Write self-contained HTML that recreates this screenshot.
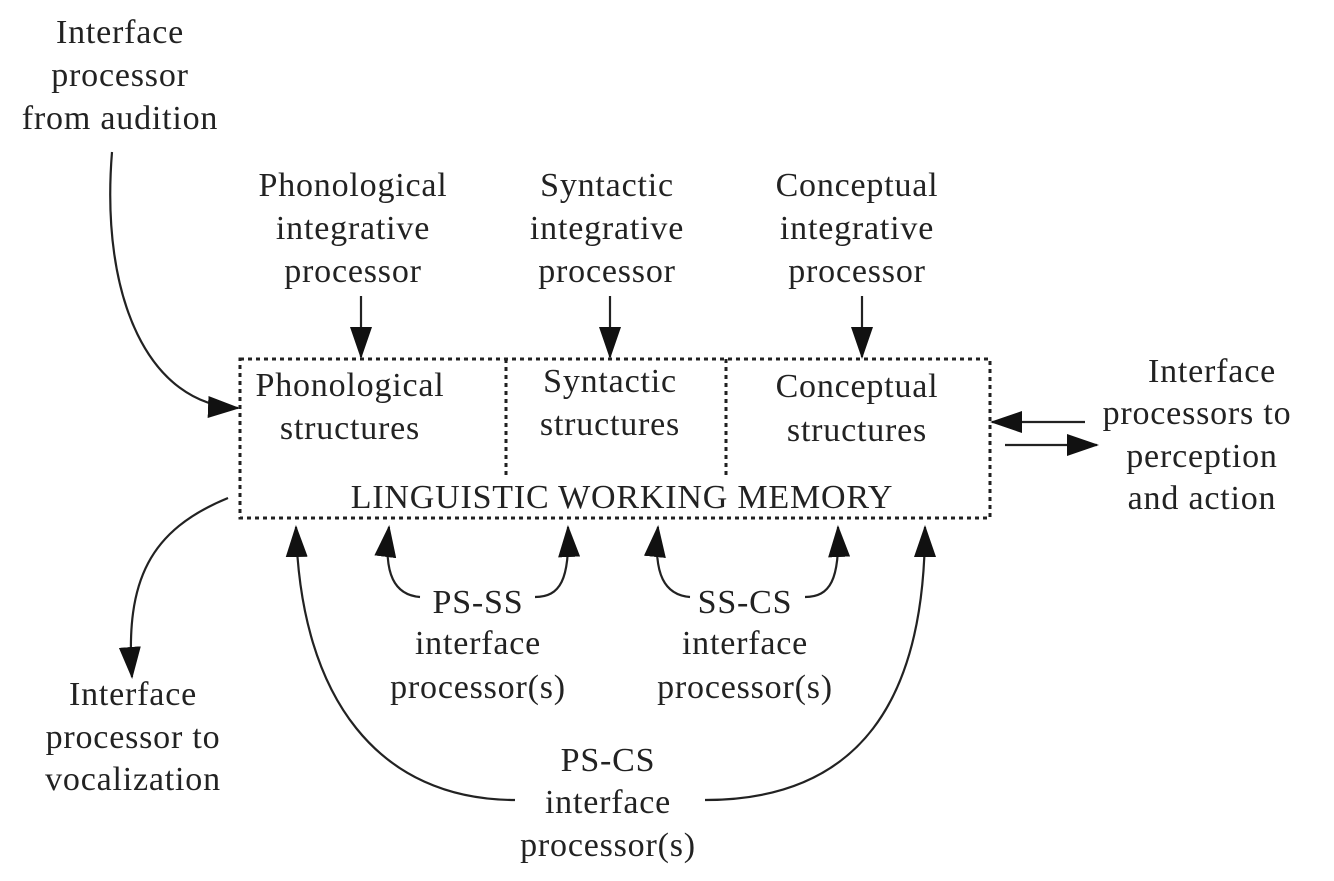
<!DOCTYPE html>
<html><head><style>
html,body{margin:0;padding:0;background:#fff;}
svg{display:block;}
text{font-family:"Liberation Serif",serif;font-size:34px;letter-spacing:0.8px;fill:#222;text-anchor:middle;}
</style></head><body>
<svg width="1334" height="881" viewBox="0 0 1334 881" xmlns="http://www.w3.org/2000/svg">
<defs>
<marker id="a" markerWidth="32" markerHeight="22" refX="30" refY="11" orient="auto" markerUnits="userSpaceOnUse">
<path d="M0,0 L32,11 L0,22 Z" fill="#111"/>
</marker>
</defs>
<g fill="none" stroke="#222" stroke-width="3" stroke-dasharray="4,4">
<rect x="240" y="359" width="750" height="159"/>
<line x1="506" y1="359" x2="506" y2="476"/>
<line x1="726" y1="359" x2="726" y2="476"/>
</g>
<g fill="none" stroke="#222" stroke-width="2.2" marker-end="url(#a)">
<line x1="361" y1="296" x2="361" y2="357"/>
<line x1="610" y1="296" x2="610" y2="357"/>
<line x1="862" y1="296" x2="862" y2="357"/>
<path d="M112,152 C100,300 150,405 238,408"/>
<path d="M228,498 C150,530 125,580 132,677"/>
<line x1="1085" y1="422" x2="992" y2="422"/>
<line x1="1005" y1="445" x2="1097" y2="445"/>
<path d="M420,597 C395,595 383,575 389,527"/>
<path d="M535,597 C560,597 570,580 568,527"/>
<path d="M690,597 C665,595 653,575 658,527"/>
<path d="M805,597 C830,597 840,580 838,527"/>
<path d="M515,800 C380,800 300,700 296,527"/>
<path d="M705,800 C860,800 925,700 925,527"/>
</g>
<text x="120" y="43">Interface</text>
<text x="120" y="86">processor</text>
<text x="120" y="129">from audition</text>
<text x="353" y="196">Phonological</text>
<text x="353" y="239">integrative</text>
<text x="353" y="282">processor</text>
<text x="607" y="196">Syntactic</text>
<text x="607" y="239">integrative</text>
<text x="607" y="282">processor</text>
<text x="857" y="196">Conceptual</text>
<text x="857" y="239">integrative</text>
<text x="857" y="282">processor</text>
<text x="350" y="396">Phonological</text>
<text x="350" y="439">structures</text>
<text x="610" y="392">Syntactic</text>
<text x="610" y="435">structures</text>
<text x="857" y="397">Conceptual</text>
<text x="857" y="441">structures</text>
<text x="622" y="508">LINGUISTIC WORKING MEMORY</text>
<text x="1212" y="382">Interface</text>
<text x="1197" y="424">processors to</text>
<text x="1202" y="467">perception</text>
<text x="1202" y="509">and action</text>
<text x="133" y="705">Interface</text>
<text x="133" y="748">processor to</text>
<text x="133" y="790">vocalization</text>
<text x="478" y="613">PS-SS</text>
<text x="478" y="654">interface</text>
<text x="478" y="698">processor(s)</text>
<text x="745" y="613">SS-CS</text>
<text x="745" y="654">interface</text>
<text x="745" y="698">processor(s)</text>
<text x="608" y="771">PS-CS</text>
<text x="608" y="813">interface</text>
<text x="608" y="856">processor(s)</text>
</svg>
</body></html>
